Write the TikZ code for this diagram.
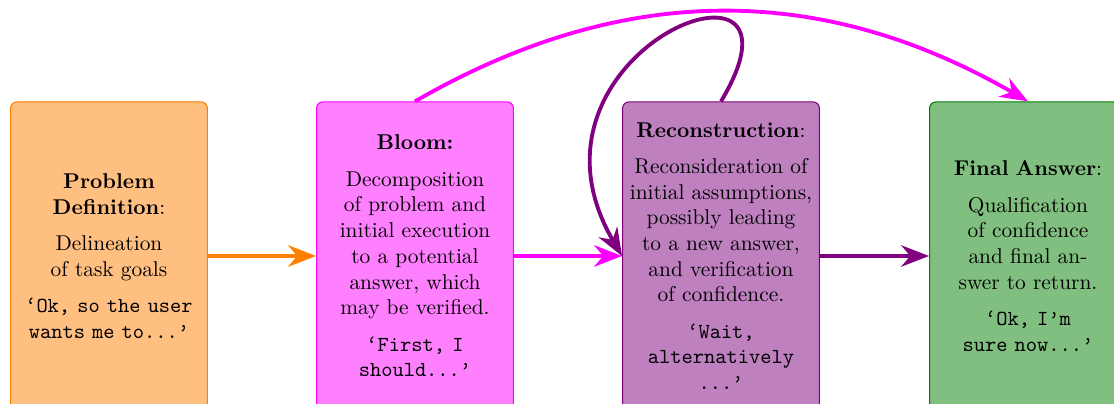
\documentclass[tikz,border=0pt]{standalone}
\usetikzlibrary{arrows.meta}
\definecolor{fgreen}{RGB}{0,128,0}
\definecolor{fmag}{RGB}{255,0,255}
\definecolor{forange}{RGB}{255,128,0}
\definecolor{fviolet}{RGB}{128,0,128}
\begin{document}
\begin{tikzpicture}[x=0.4673pt,y=-0.4673pt,
  box/.style={rounded corners=3pt, text width=3cm, align=center,
    minimum height=144pt, line width=0.5pt, inner sep=3.33pt},
  flow/.style={line width=1.8pt, -{Stealth[length=13pt,width=10pt]}},
]
\useasboundingbox (0,0) rectangle (1114,404);

\node[box, fill=forange!50, draw=forange] (def) at (109,256)
  {\textbf{Problem}\\ \textbf{Definition}:\\[5pt]
   Delineation\\ of task goals\\[5pt]
   \texttt{‘Ok, so the user}\\ \texttt{wants me to...’}};
\node[box, fill=fmag!50, draw=fmag] (bloom) at (415,256)
  {\textbf{Bloom:}\\[5pt]
   Decomposition\\ of problem and\\ initial execution\\ to a potential\\ answer, which\\ may be verified.\\[5pt]
   \texttt{‘First, I}\\ \texttt{should...’}};
\node[box, fill=fviolet!50, draw=fviolet] (recon) at (721,256)
  {\textbf{Reconstruction}:\\[5pt]
   Reconsideration of\\ initial assumptions,\\ possibly leading\\ to a new answer,\\ and verification\\ of confidence.\\[5pt]
   \texttt{‘Wait,}\\ \texttt{alternatively}\\ \texttt{...’}};
\node[box, fill=fgreen!50, draw=fgreen] (final) at (1028,256)
  {\textbf{Final Answer}:\\[5pt]
   Qualification\\ of confidence\\ and final an-\\ swer to return.\\[5pt]
   \texttt{‘Ok, I’m}\\ \texttt{sure now...’}};

\draw[flow, forange] (def.east) -- (bloom.west);
\draw[flow, fmag] (bloom.east) -- (recon.west);
\draw[flow, fviolet] (recon.east) -- (final.west);
\draw[flow, fmag] (bloom.north) to[bend left=30] (final.north);
\draw[flow, fviolet] (recon.north) .. controls +(105,-175) and +(-120,-205) .. (recon.west);
\end{tikzpicture}
\end{document}
